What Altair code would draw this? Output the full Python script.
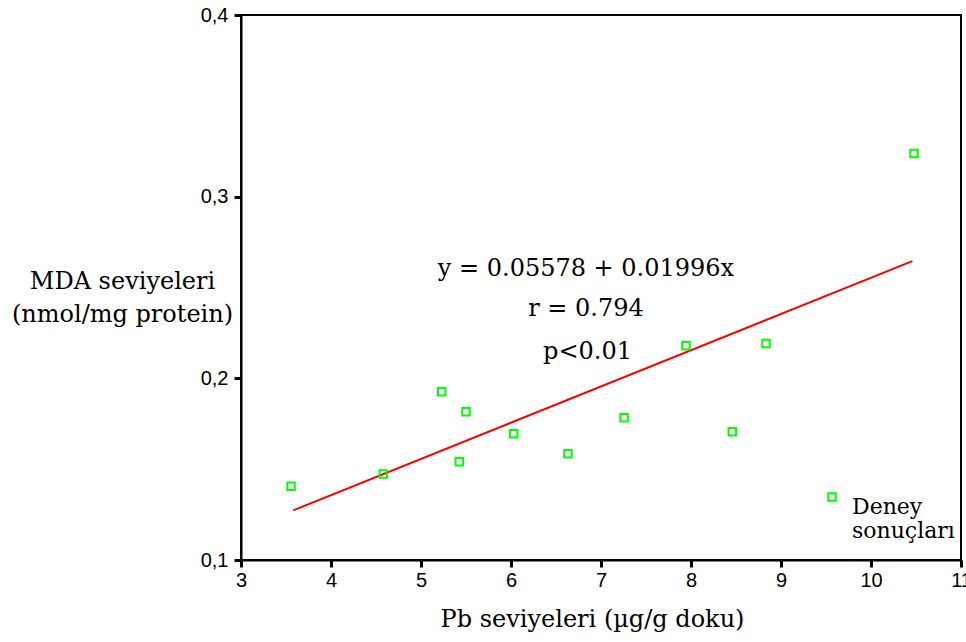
import altair as alt
import pandas as pd

# Data
pb_values = [3.556, 4.581, 5.230, 5.500, 5.426, 6.030, 6.633, 7.256, 7.944, 8.459, 8.833, 10.478]
mda_values = [0.1406, 0.1474, 0.1926, 0.1816, 0.1541, 0.1695, 0.1585, 0.1783, 0.2179, 0.1706, 0.2192, 0.3238]
series_name = "Deney sonuçları"

fit_x = [3.58, 10.46]
fit_y = [0.1273, 0.2645]

annot_text = ["y = 0.05578 + 0.01996x", "r = 0.794", "p<0.01"]
annot_x = [6.833, 6.833, 6.85]
annot_y = [0.2562, 0.2342, 0.2104]

x_ticks = [3, 4, 5, 6, 7, 8, 9, 10, 11]
y_ticks = [0.1, 0.2, 0.3, 0.4]

pts = pd.DataFrame({"pb": pb_values, "mda": mda_values, "series": [series_name] * len(pb_values)})
fit = pd.DataFrame({"pb": fit_x, "mda": fit_y})
ann = pd.DataFrame({"pb": annot_x, "mda": annot_y, "txt": annot_text})

xscale = alt.Scale(domain=[3, 11], nice=False, zero=False)
yscale = alt.Scale(domain=[0.1, 0.4], nice=False, zero=False)

serif = "DejaVu Serif"

x_axis = alt.Axis(
    values=x_ticks, grid=False, title="Pb seviyeleri (µg/g doku)", format="d",
    titleFont=serif, titleFontSize=24, titleFontWeight="normal", titleColor="black",
    titleX=351, titleY=66, titleAlign="center", titleBaseline="alphabetic",
    labelFont="Liberation Sans", labelFontSize=20, labelColor="black", labelPadding=3,
    labelFlush=False, tickSize=7, tickWidth=3, tickColor="black",
    domainColor="black", domainWidth=2,
)
y_axis = alt.Axis(
    values=y_ticks, grid=False, title=["MDA seviyeleri", "(nmol/mg protein)"],
    titleFont=serif, titleFontSize=24, titleFontWeight="normal", titleColor="black",
    titleAngle=0, titleX=-119, titleY=266, titleAlign="center", titleBaseline="middle",
    titleLineHeight=33,
    labelExpr="replace(format(datum.value, '.1f'), '.', ',')",
    labelFont="Liberation Sans", labelFontSize=20, labelColor="black", labelPadding=6,
    labelFlush=False, tickSize=7, tickWidth=3, tickColor="black",
    domainColor="black", domainWidth=2,
)

line = alt.Chart(fit).mark_line(color="#ff0000", strokeWidth=2).encode(
    x=alt.X("pb:Q", scale=xscale, axis=x_axis),
    y=alt.Y("mda:Q", scale=yscale, axis=y_axis),
)

points = alt.Chart(pts).mark_point(shape="square", size=56, filled=False, strokeWidth=2, opacity=1).encode(
    x=alt.X("pb:Q", scale=xscale),
    y=alt.Y("mda:Q", scale=yscale),
    color=alt.Color(
        "series:N",
        scale=alt.Scale(range=["#00ff00"]),
        legend=alt.Legend(
            title=None, orient="none", legendX=580, legendY=471,
            symbolType="square", symbolSize=56, symbolStrokeWidth=2,
            symbolFillColor="white", symbolStrokeColor="#00ff00",
            labelFont=serif, labelFontSize=22, labelColor="black",
            labelBaseline="top", labelOffset=9, labelLimit=300,
            labelExpr="['Deney', 'sonuçları']", padding=0,
        ),
    ),
)

text = alt.Chart(ann).mark_text(font=serif, fontSize=24, color="black", align="center", baseline="alphabetic").encode(
    x=alt.X("pb:Q", scale=xscale),
    y=alt.Y("mda:Q", scale=yscale),
    text="txt:N",
)

chart = alt.layer(line, points, text).properties(
    width=720, height=545,
    autosize=alt.AutoSizeParams(type="none"),
    padding={"left": 241, "top": 15, "right": 5, "bottom": 82},
    background="white",
).configure_view(stroke="black", strokeWidth=2)

chart.save("out.html", embed_options={"renderer": "svg", "actions": False})
